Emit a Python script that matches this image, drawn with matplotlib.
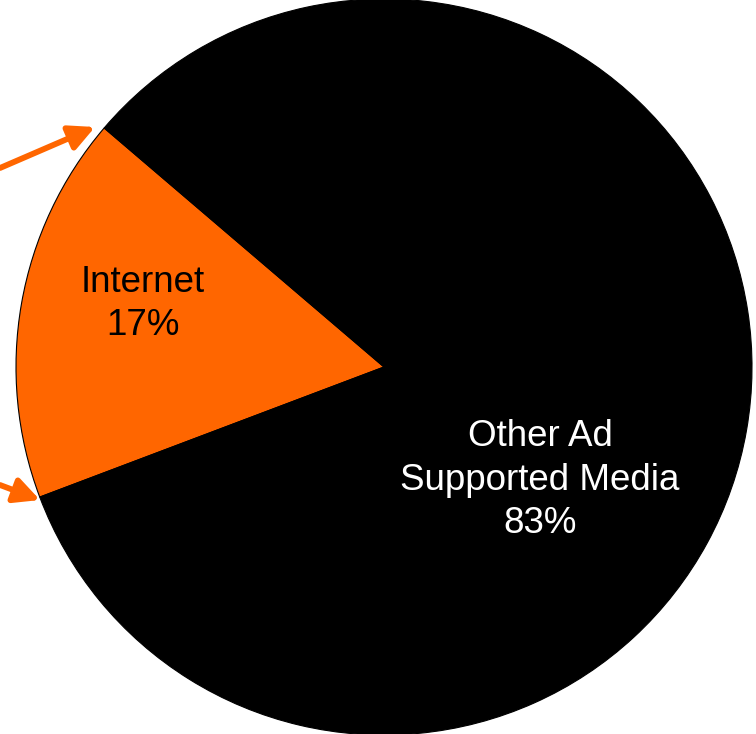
import matplotlib.pyplot as plt
from matplotlib.patches import FancyArrowPatch

W, H = 756, 734
DPI = 100

# ── Data ───────────────────────────────────────────
labels = ['Internet', 'Other Ad\nSupported Media']
shares = [17, 83]
colors = ['#FF6600', '#000000']
text_colors = ['black', 'white']

plt.rcParams['font.family'] = ['Liberation Sans', 'DejaVu Sans']

fig = plt.figure(figsize=(W / DPI, H / DPI), dpi=DPI)
ax = fig.add_axes([0, 0, 1, 1])
ax.set_aspect('equal')

cx, cy, R = 384, 367, 368
ax.pie(shares, colors=colors, startangle=139.5, counterclock=True,
       center=(cx, cy), radius=R, frame=True,
       wedgeprops=dict(edgecolor='black', linewidth=0.8))
ax.set_xlim(0, W)
ax.set_ylim(0, H)
ax.axis('off')

# labels
label_pos = [(143, H - 304), (540, H - 480)]
for lab, val, (x, y), tc in zip(labels, shares, label_pos, text_colors):
    ax.text(x, y, f'{lab}\n{val}%', ha='center', va='center', fontsize=26.5,
            color=tc, linespacing=1.33)

# orange arrows pointing at the slice edges
arrows = [((0, H - 168), (95, H - 127)), ((0, H - 485), (40, H - 500))]
for start, end in arrows:
    ax.add_patch(FancyArrowPatch(start, end, arrowstyle='-|>',
                                 mutation_scale=38, color='#FF6600',
                                 linewidth=4.2, shrinkA=0, shrinkB=0,
                                 clip_on=False))

fig.savefig('out.png', dpi=DPI)
